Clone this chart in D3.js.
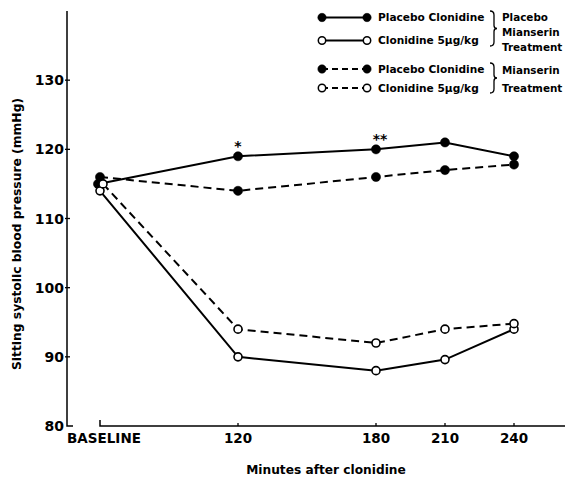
<!DOCTYPE html>
<html><head><meta charset="utf-8">
<script src="https://cdn.jsdelivr.net/npm/d3@7/dist/d3.min.js"></script>
<style>body{margin:0;background:#fff}svg{display:block}text{font-family:"DejaVu Sans",Verdana,sans-serif;font-weight:bold;fill:#000}</style>
</head><body><svg id="c" width="565" height="478"></svg>
<script>
// ---- data ----
const times = [60, 120, 180, 210, 240];          // baseline plotted at position 60
const tickLabels = ["BASELINE", "120", "180", "210", "240"];
const yTicks = [80, 90, 100, 110, 120, 130];
const placeboMianserin_placeboClonidine = [115, 119, 120, 121, 119];
const placeboMianserin_clonidine = [114, 90, 88, 89.6, 94];
const mianserin_placeboClonidine = [116, 114, 116, 117, 117.8];
const mianserin_clonidine = [115, 94, 92, 94, 94.8];
const seriesNames = ["Placebo Clonidine", "Clonidine 5µg/kg", "Placebo Clonidine", "Clonidine 5µg/kg"];
const annotations = [{t:120, v:119, label:"*"}, {t:180, v:120, label:"**"}];

const series = [
  {name: seriesNames[0], values: placeboMianserin_placeboClonidine, filled: true, dashed: false, dx: -2},
  {name: seriesNames[1], values: placeboMianserin_clonidine, filled: false, dashed: false, dx: 0},
  {name: seriesNames[2], values: mianserin_placeboClonidine, filled: true, dashed: true, dx: 0},
  {name: seriesNames[3], values: mianserin_clonidine, filled: false, dashed: true, dx: 3}
];

const svg = d3.select("#c");
const x = d3.scaleLinear().domain([60, 240]).range([100, 514]);
const y = d3.scaleLinear().domain([80, 140]).range([426, 11]);
const axX = 67, axY = 426;

// y axis
const ya = svg.append("g");
ya.append("path").attr("d", `M${axX},${y(140)}V${y(80)}H${axX+6}`).attr("fill","none").attr("stroke","#000").attr("stroke-width",1.5);
yTicks.forEach(v => {
  if (v > 80) ya.append("line").attr("x1", axX-2).attr("x2", axX+3).attr("y1", y(v)).attr("y2", y(v)).attr("stroke","#000").attr("stroke-width",1.3);
  ya.append("text").attr("x", axX-3).attr("y", y(v)).attr("dy","0.36em").attr("text-anchor","end").attr("font-size",14).text(v);
});
svg.append("text").attr("transform", `translate(21,234) rotate(-90)`).attr("text-anchor","middle").attr("font-size",12.3).text("Sitting systolic blood pressure (mmHg)");

// x axis
const xa = svg.append("g");
xa.append("path").attr("d", `M${x(60)},${axY-6}V${axY}H565`).attr("fill","none").attr("stroke","#000").attr("stroke-width",1.5);
times.forEach((t,i) => {
  if (i > 0) xa.append("line").attr("x1", x(t)).attr("x2", x(t)).attr("y1", axY).attr("y2", axY-3).attr("stroke","#000").attr("stroke-width",1.3);
  xa.append("text").attr("x", x(t)+ (i===0?4:0)).attr("y", 443).attr("text-anchor","middle").attr("font-size",13.5).text(tickLabels[i]);
});
svg.append("text").attr("x", 326).attr("y", 474).attr("text-anchor","middle").attr("font-size",12.2).text("Minutes after clonidine");

// lines
const line = d3.line();
series.forEach(s => {
  const pts = s.values.map((v,i) => [x(times[i]) + (i===0 ? s.dx : 0), y(v)]);
  svg.append("path").attr("d", line(pts)).attr("fill","none").attr("stroke","#000").attr("stroke-width",2)
    .attr("stroke-dasharray", s.dashed ? "8,5" : null);
  s.pts = pts;
});
series.forEach(s => {
  svg.selectAll(null).data(s.pts).enter().append("circle")
    .attr("cx", d=>d[0]).attr("cy", d=>d[1]).attr("r", s.filled ? 4.6 : 4)
    .attr("fill", s.filled ? "#000" : "#fff").attr("stroke","#000").attr("stroke-width", s.filled ? 0.5 : 1.6);
});

// annotations
annotations.forEach(a => {
  svg.append("text").attr("x", x(a.t)+ (a.label.length>1?4:0)).attr("y", y(a.v)-5).attr("text-anchor","middle").attr("font-size",14).text(a.label);
});

// legend
const legRows = [17.5, 40.5, 69, 88];
series.forEach((s,i) => {
  const g = svg.append("g");
  g.append("line").attr("x1",322).attr("x2",367).attr("y1",legRows[i]).attr("y2",legRows[i]).attr("stroke","#000").attr("stroke-width",2).attr("stroke-dasharray", s.dashed ? "6,4" : null);
  [322,367].forEach(cx => g.append("circle").attr("cx",cx).attr("cy",legRows[i]).attr("r", s.filled?4.2:3.7)
     .attr("fill", s.filled?"#000":"#fff").attr("stroke","#000").attr("stroke-width", s.filled?0.5:1.5));
  g.append("text").attr("x",378).attr("y",legRows[i]).attr("dy","0.35em").attr("font-size",10.6).text(s.name);
});
function brace(x0, y0, y1) {
  const m = (y0+y1)/2, w = 4;
  return `M${x0},${y0} Q${x0+w},${y0} ${x0+w},${y0+4} V${m-3} Q${x0+w},${m} ${x0+w+3},${m} Q${x0+w},${m} ${x0+w},${m+3} V${y1-4} Q${x0+w},${y1} ${x0},${y1}`;
}
svg.append("path").attr("d", brace(490, 11, 46)).attr("fill","none").attr("stroke","#000").attr("stroke-width",1.3);
svg.append("path").attr("d", brace(490, 63, 93)).attr("fill","none").attr("stroke","#000").attr("stroke-width",1.3);
[["Placebo",17],["Mianserin",32],["Treatment",47]].forEach(([t,yy]) =>
  svg.append("text").attr("x",502).attr("y",yy).attr("dy","0.35em").attr("font-size",10.4).text(t));
[["Mianserin",70],["Treatment",88]].forEach(([t,yy]) =>
  svg.append("text").attr("x",502).attr("y",yy).attr("dy","0.35em").attr("font-size",10.4).text(t));
</script></body></html>
